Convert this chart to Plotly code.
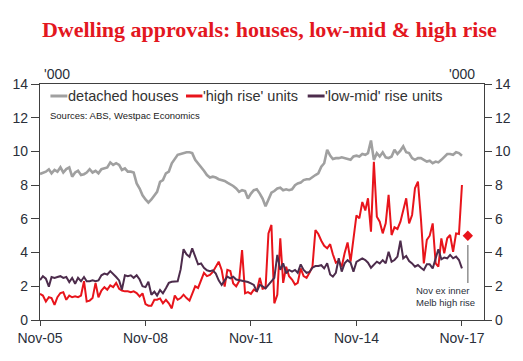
import pandas as pd
import plotly.graph_objects as go

months = pd.date_range("2005-11-01", periods=145, freq="MS")

detached = [
    8.66, 8.74, 8.8, 8.94, 8.7, 8.9, 8.8, 9.06, 8.75, 8.95,
    9.05, 8.5, 8.75, 8.85, 8.6, 8.65, 8.75, 8.95, 8.75, 8.85,
    8.7, 8.95, 9.0, 9.05, 9.35, 9.2, 9.3, 9.2, 8.9, 9.0,
    8.8, 8.8, 8.75, 8.1, 7.8, 7.4, 7.15, 6.96, 7.15, 7.4,
    7.6, 8.2, 8.3, 8.7, 8.8, 9.3, 9.55, 9.8, 9.85, 9.9,
    9.95, 9.95, 9.9, 9.5, 9.3, 9.05, 8.85, 8.6, 8.45, 8.5,
    8.45, 8.35, 8.3, 8.25, 8.15, 8.05, 7.95, 7.8, 7.6, 7.7,
    7.65, 7.2, 7.5, 7.7, 7.75, 7.5, 7.2, 6.75, 7.2, 7.55,
    7.65, 7.8, 7.85, 7.7, 7.75, 7.7, 7.75, 8.0, 8.1, 8.15,
    8.3, 8.35, 8.35, 8.5, 8.6, 8.7, 9.1, 9.3, 10.1, 9.75,
    9.55, 9.6, 9.6, 9.65, 9.6, 9.55, 9.5, 9.7, 9.75, 9.7,
    9.85, 9.8, 9.9, 10.65, 9.5, 9.9, 9.7, 9.95, 9.65, 9.6,
    9.7, 10.1, 9.85, 10.05, 10.3, 9.95, 9.9, 9.6, 9.5, 9.6,
    9.6, 9.5, 9.4, 9.45, 9.3, 9.4, 9.35, 9.5, 9.7, 9.85,
    9.85, 9.8, 9.95, 9.9, 9.75,
]

high_rise = [
    1.55, 1.45, 1.1, 1.35, 1.3, 0.9, 1.35, 1.6, 1.65, 1.2,
    1.45, 1.35, 1.4, 1.35, 1.45, 2.3, 1.1, 1.15, 1.3, 2.2,
    1.35, 1.75, 1.95, 1.8, 2.05, 1.95, 2.2, 1.85, 1.75, 1.7,
    1.7, 1.65, 1.7, 1.6, 1.4, 1.58, 0.95, 0.85, 0.85, 1.2,
    1.2, 1.28, 0.99, 1.2, 0.99, 0.69, 1.45, 1.2, 1.3, 1.5,
    1.3, 1.15, 1.55, 2.0, 1.9, 2.4, 2.8, 2.6, 2.67, 2.85,
    3.2, 3.46, 2.97, 1.98, 2.97, 2.9, 2.17, 2.0, 2.3, 4.15,
    1.58, 1.65, 1.55, 1.8, 1.7, 2.5, 1.85, 1.9, 5.14, 5.64,
    0.99, 1.5, 4.84, 2.2, 3.16, 2.6, 2.4, 2.1, 2.2, 3.06,
    2.6, 2.5, 2.8, 3.16, 5.34, 5.1, 4.7, 4.4, 4.25, 4.5,
    3.9, 3.4, 3.5, 3.16, 3.96, 4.6, 3.46, 5.0, 6.2, 6.03,
    7.0, 6.5, 7.22, 5.24, 9.39, 6.13, 5.83, 5.14, 5.73, 7.42,
    5.04, 5.5, 5.4, 5.83, 6.53, 7.22, 5.73, 6.23, 7.81, 8.21,
    6.0, 3.36, 4.75, 5.0, 5.73, 3.36, 3.16, 4.84, 3.96, 4.85,
    5.04, 4.05, 5.14, 5.1, 8.01,
]

low_mid = [
    2.37, 2.6, 2.45, 1.98, 2.55, 2.5, 2.55, 2.6, 2.5, 2.55,
    2.25, 2.5, 2.15, 2.5, 2.3, 2.55, 2.3, 2.3, 2.35, 2.3,
    2.35, 2.65, 2.75, 2.7, 2.9, 2.75, 2.55, 2.35, 1.8, 2.65,
    2.6, 2.65, 2.5, 2.65, 2.4, 2.0, 1.95, 2.27, 1.5, 1.68,
    1.45, 1.78, 1.58, 1.88, 2.2, 2.27, 2.27, 2.3, 3.0, 4.2,
    3.9, 3.75, 4.25, 3.7, 3.3, 3.35, 3.1, 2.95, 2.9, 2.95,
    2.75, 2.35, 2.08, 2.35, 2.57, 2.47, 2.57, 2.4, 2.37, 2.3,
    2.27, 2.25, 2.17, 2.08, 1.68, 2.08, 2.0, 1.88, 2.08, 2.27,
    2.5, 3.86, 2.97, 3.36, 2.77, 2.97, 2.87, 2.97, 2.8, 3.3,
    2.97, 2.8, 2.85, 3.1, 3.2, 3.2, 3.25, 3.06, 3.36, 2.7,
    2.57, 2.8, 3.66, 2.87, 3.36, 3.55, 3.4, 2.87, 3.45, 3.55,
    3.65, 3.56, 3.4, 3.1, 3.3, 3.46, 3.36, 3.55, 3.36, 4.05,
    3.46, 3.56, 3.76, 4.7, 3.66, 3.8, 3.5, 3.36, 3.16, 3.26,
    3.1, 2.97, 3.3, 3.3, 3.06, 3.6, 4.2, 3.6, 3.7, 3.66,
    3.86, 3.66, 3.76, 3.56, 3.06,
]

series_names = ["detached houses", "'high rise' units", "'low-mid' rise units"]

# Nov-17 excluding inner Melbourne high rise
ex_melb_date = ["2018-01-01"]
ex_melb_value = [5.0]
pointer_y = [2.2, 4.45]

tick_dates = ["2005-11-01", "2008-11-01", "2011-11-01", "2014-11-01", "2017-11-01"]
tick_labels = ["Nov-05", "Nov-08", "Nov-11", "Nov-14", "Nov-17"]
y_ticks = [0, 2, 4, 6, 8, 10, 12, 14]

GREY = "#A0A0A0"
RED = "#E8141B"
PURPLE = "#4D2C4C"
AXIS = "#404040"
TXT = "#2A2F3A"
FONT = "Arial, Liberation Sans, sans-serif"
colors = [GREY, RED, PURPLE]
widths = [2.6, 2, 2]

fig = go.Figure()
for name, vals, col, w in zip(series_names, [detached, high_rise, low_mid], colors, widths):
    fig.add_trace(go.Scatter(x=months, y=vals, mode="lines", name=name,
                             line=dict(color=col, width=w), showlegend=False))
fig.add_trace(go.Scatter(x=ex_melb_date, y=ex_melb_value, mode="markers", showlegend=False,
                         name="Nov ex inner Melb high rise",
                         marker=dict(symbol="diamond", color=RED, size=8)))
fig.add_trace(go.Scatter(x=ex_melb_date * 2, y=pointer_y, mode="lines", showlegend=False,
                         hoverinfo="skip", line=dict(color="#909090", width=1.5)))
# invisible trace to activate right axis
fig.add_trace(go.Scatter(x=months[:1], y=[None], yaxis="y2", showlegend=False, hoverinfo="skip"))

fig.update_layout(
    width=523, height=361,
    margin=dict(l=40, r=36, t=84, b=41),
    paper_bgcolor="white", plot_bgcolor="white",
    font=dict(family=FONT, color=TXT, size=14),
    title=dict(text="<b>Dwelling approvals: houses, low-mid &amp; high rise</b>",
               font=dict(family="Times New Roman, Liberation Serif, serif", size=22, color="#E3171F"),
               x=0.515, xanchor="center", y=0.92, yanchor="middle"),
    showlegend=False,
    xaxis=dict(type="date", range=["2005-11-01", "2018-06-18"],
               tickvals=tick_dates, ticktext=tick_labels,
               showline=True, linecolor=AXIS, linewidth=1.2, mirror=True,
               ticks="outside", ticklen=5, tickcolor=AXIS, tickwidth=1.2,
               showgrid=False, zeroline=False, tickfont=dict(size=14, color=TXT)),
    yaxis=dict(range=[0, 14], tickvals=y_ticks, showline=True, linecolor=AXIS, linewidth=1.2,
               mirror=True, ticks="outside", ticklen=8, tickcolor=AXIS, tickwidth=1.2,
               showgrid=False, zeroline=False, tickfont=dict(size=14, color=TXT)),
    yaxis2=dict(range=[0, 14], tickvals=y_ticks, overlaying="y", side="right",
                showline=True, linecolor=AXIS, linewidth=1.2, ticks="outside", ticklen=7,
                tickcolor=AXIS, tickwidth=1.2, showgrid=False, zeroline=False,
                tickfont=dict(size=14, color=TXT)),
)

# legend keys (sample line + label), placed in paper coordinates
plot_l, plot_w, plot_b, plot_h = 40, 447, 320, 236
def px(x):
    return (x - plot_l) / plot_w
def py(y):
    return (plot_b - y) / plot_h

legend_keys = [(50.5, 67.5), (187, 203.5), (309.5, 326.5)]
legend_y = 96
for name, col, (x0, x1) in zip(series_names, colors, legend_keys):
    fig.add_shape(type="line", xref="paper", yref="paper", x0=px(x0), x1=px(x1),
                  y0=py(legend_y), y1=py(legend_y), line=dict(color=col, width=3))
    fig.add_annotation(text=name, xref="paper", yref="paper", x=px(x1 + 0.5), y=py(legend_y),
                       xanchor="left", yanchor="middle", showarrow=False, xshift=-2,
                       font=dict(size=14.5, color="#333333", family=FONT))

fig.add_annotation(text="'000", xref="paper", yref="paper", x=0.005, y=1.0, xanchor="left",
                   yanchor="bottom", showarrow=False, font=dict(size=14, color=TXT))
fig.add_annotation(text="'000", xref="paper", yref="paper", x=0.985, y=1.0, xanchor="right",
                   yanchor="bottom", showarrow=False, font=dict(size=14, color=TXT))
fig.add_annotation(text="Sources: ABS, Westpac Economics", xref="paper", yref="paper",
                   x=px(48), y=py(115), xanchor="left", yanchor="middle", showarrow=False,
                   font=dict(size=9.5, color="#222222"))
fig.add_annotation(text="Nov ex inner<br>Melb high rise", xref="x", yref="y",
                   x="2016-06-25", y=1.42, xanchor="left", yanchor="middle", align="left",
                   showarrow=False, font=dict(size=9.5, color=TXT))

fig.write_html("out.html", config={"displayModeBar": False},
               post_script="document.body.style.margin='0';")
